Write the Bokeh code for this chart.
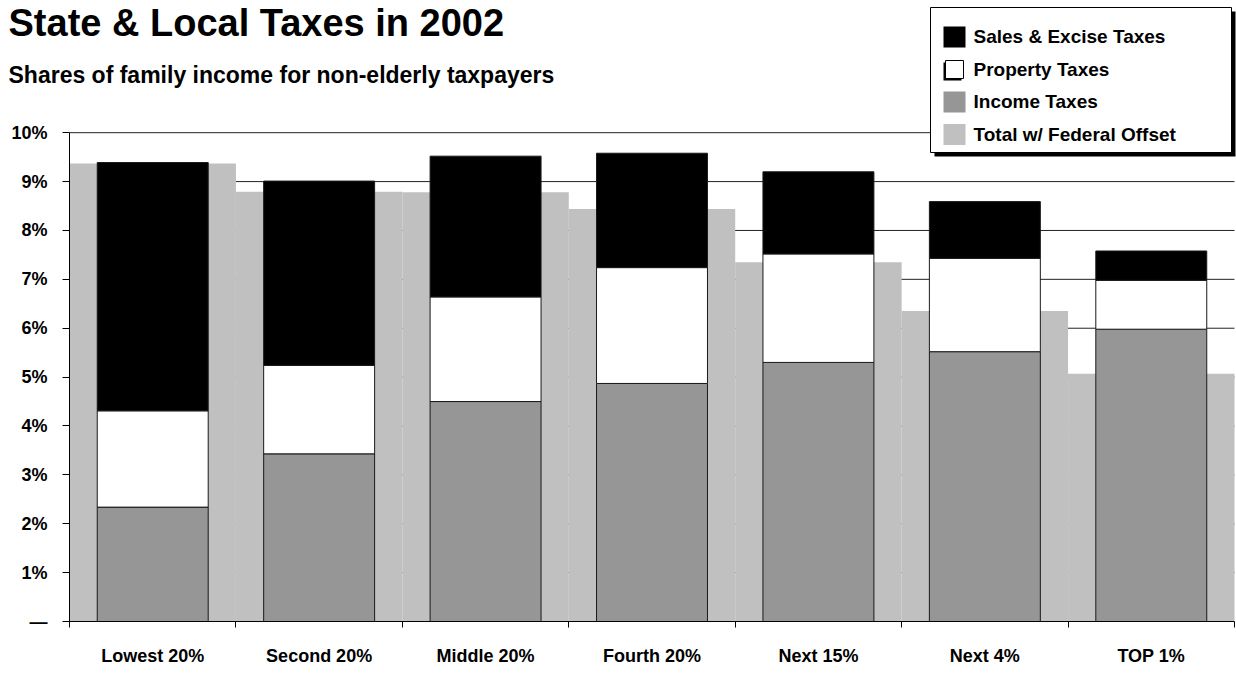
from bokeh.plotting import figure
from bokeh.models import FixedTicker, Label, Range1d, CustomJSTickFormatter
from bokeh.core.properties import value
from bokeh.embed import file_html
from bokeh.resources import INLINE

# ---- data ----
categories = ["Lowest 20%", "Second 20%", "Middle 20%", "Fourth 20%", "Next 15%", "Next 4%", "TOP 1%"]
income_taxes = [2.34, 3.43, 4.50, 4.87, 5.30, 5.52, 5.98]
property_taxes = [1.97, 1.81, 2.14, 2.37, 2.22, 1.91, 1.00]
sales_excise_taxes = [5.08, 3.77, 2.88, 2.34, 1.68, 1.16, 0.60]
total_federal_offset = [9.37, 8.79, 8.78, 8.44, 7.35, 6.35, 5.07]
y_ticks = [0, 1, 2, 3, 4, 5, 6, 7, 8, 9, 10]
y_tick_labels = ["\u2014", "1%", "2%", "3%", "4%", "5%", "6%", "7%", "8%", "9%", "10%"]
legend_labels = ["Sales & Excise Taxes", "Property Taxes", "Income Taxes", "Total w/ Federal Offset"]
title_text = "State & Local Taxes in 2002"
subtitle_text = "Shares of family income for non-elderly taxpayers"

FONT = "Liberation Sans"
W, H = 1236, 686
AXIS_X = 69          # pixel column of the y axis
AXIS_Y = 621         # pixel row of the x axis (value 0)
PLOT_RIGHT = 1234    # right end of the category area
N = len(categories)
SX = (PLOT_RIGHT - AXIS_X) / N   # pixels per category
PX_PER_UNIT = 48.88
BASE_SHIFT = 0.39                # bokeh text baseline compensation (em)


def X(px):
    return (px - AXIS_X) / SX


def Y(py):
    return (AXIS_Y - py) / PX_PER_UNIT


p = figure(width=W, height=H, output_backend="svg", toolbar_location=None, title=None,
           x_range=Range1d(X(0), X(W)), y_range=Range1d(Y(H), Y(0)),
           min_border_left=0, min_border_right=0, min_border_top=0, min_border_bottom=0)
p.outline_line_color = None
p.background_fill_color = "white"
p.border_fill_color = "white"

centers = [i + 0.5 for i in range(N)]
prop_top = [a + b for a, b in zip(income_taxes, property_taxes)]
sales_top = [a + b for a, b in zip(prop_top, sales_excise_taxes)]

# gridlines (only across the plot area, right of the y axis)
p.xgrid.visible = False
p.ygrid.visible = False
grid_vals = y_ticks[1:]
p.segment(x0=[0] * len(grid_vals), x1=[N] * len(grid_vals), y0=grid_vals, y1=grid_vals,
          line_color="#222222", line_width=1)

# background light gray bars (full category width)
p.vbar(x=centers, width=1.0, bottom=0, top=total_federal_offset,
       fill_color="#C0C0C0", line_color=None)
# stacked bars
edge = "#1a1a1a"
p.vbar(x=centers, width=2 / 3, bottom=0, top=income_taxes,
       fill_color="#969696", line_color=edge, line_width=1)
p.vbar(x=centers, width=2 / 3, bottom=income_taxes, top=prop_top,
       fill_color="white", line_color=edge, line_width=1)
p.vbar(x=centers, width=2 / 3, bottom=prop_top, top=sales_top,
       fill_color="black", line_color=edge, line_width=1)

# y axis, fixed at x = 0 inside the frame
ya = p.yaxis[0]
ya.fixed_location = 0
ya.bounds = (0, 10)
ya.ticker = FixedTicker(ticks=y_ticks)
ya.formatter = CustomJSTickFormatter(args=dict(labels=y_tick_labels),
                                     code="return labels[Math.round(tick)];")
ya.axis_line_color = "black"
ya.major_tick_line_color = "black"
ya.major_tick_out = 7
ya.major_tick_in = 0
ya.minor_tick_line_color = None
ya.major_label_standoff = 15
ya.major_label_text_font = FONT
ya.major_label_text_font_style = "bold"
ya.major_label_text_font_size = "18px"
ya.major_label_text_color = "black"

# x axis, fixed at y = 0 inside the frame
xa = p.xaxis[0]
xa.fixed_location = 0
xa.bounds = (0, N)
xa.ticker = FixedTicker(ticks=centers, minor_ticks=list(range(N + 1)))
xa.formatter = CustomJSTickFormatter(args=dict(labels=categories),
                                     code="return labels[Math.floor(tick)];")
xa.axis_line_color = "black"
xa.major_tick_line_color = None
xa.major_tick_out = 0
xa.major_tick_in = 0
xa.minor_tick_line_color = "black"
xa.minor_tick_out = 6
xa.minor_tick_in = 0
xa.major_label_standoff = 18
xa.major_label_text_font = FONT
xa.major_label_text_font_style = "bold"
xa.major_label_text_font_size = "18px"
xa.major_label_text_color = "black"

# titles
p.add_layout(Label(x=X(8), y=Y(37 - BASE_SHIFT * 38), text=title_text, text_font=FONT,
                   text_font_style="bold", text_font_size="38px", text_baseline="alphabetic",
                   text_color="black"))
p.add_layout(Label(x=X(8), y=Y(83 - BASE_SHIFT * 23), text=subtitle_text, text_font=FONT,
                   text_font_style="bold", text_font_size="23px", text_baseline="alphabetic",
                   text_color="black"))

# legend (drawn manually with a drop shadow)
p.quad(left=[X(934)], right=[X(1235)], top=[Y(11)], bottom=[Y(156)], fill_color="black", line_color=None)
p.quad(left=[X(930)], right=[X(1231)], top=[Y(7)], bottom=[Y(152)], fill_color="white",
       line_color="black", line_width=1)
row_c = [36.5, 69, 101.5, 134]
sw_colors = ["black", "white", "#969696", "#C0C0C0"]
p.quad(left=[X(943)], right=[X(961)], top=[Y(row_c[1] - 7)], bottom=[Y(row_c[1] + 11)],
       fill_color="black", line_color=None)
for i, c in enumerate(sw_colors):
    if i == 1:
        p.quad(left=[X(945)], right=[X(963)], top=[Y(row_c[i] - 9)], bottom=[Y(row_c[i] + 9)],
               fill_color="white", line_color="black", line_width=1)
    else:
        p.quad(left=[X(943)], right=[X(965)], top=[Y(row_c[i] - 10.5)], bottom=[Y(row_c[i] + 10.5)],
               fill_color=c, line_color=None)
p.text(x=[X(973)] * 4, y=[Y(c + 7 - BASE_SHIFT * 19) for c in row_c], text=legend_labels,
       text_font=value(FONT), text_font_style="bold", text_font_size="19px",
       text_baseline="alphabetic", text_align="left", text_color="black")

open("out.html", "w").write(file_html(p, INLINE))
